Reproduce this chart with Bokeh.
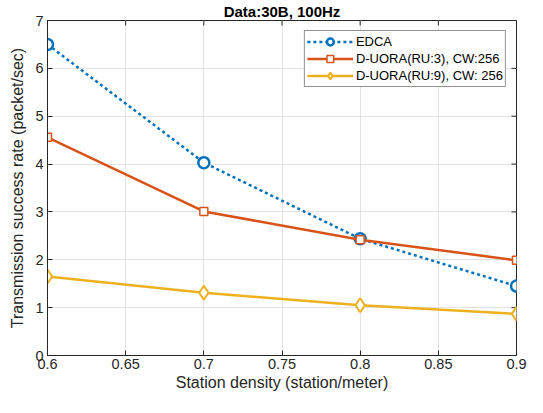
from bokeh.plotting import figure
from bokeh.models import Legend, LegendItem, Range1d, FixedTicker, Title
from bokeh.embed import file_html
from bokeh.resources import INLINE

density = [0.6, 0.7, 0.8, 0.9]
edca = [6.50, 4.03, 2.44, 1.45]
ru3 = [4.56, 3.01, 2.42, 1.99]
ru9 = [1.65, 1.31, 1.05, 0.87]
x_ticks = [0.6, 0.65, 0.7, 0.75, 0.8, 0.85, 0.9]
y_ticks = [0, 1, 2, 3, 4, 5, 6, 7]
names = ["EDCA", "D-UORA(RU:3), CW:256", "D-UORA(RU:9), CW: 256"]

FONT = "Liberation Sans"
AX = "#262626"
X0, X1, Y0, Y1 = 0.6, 0.9, 0, 7
FW, FH = 469, 335

p = figure(frame_width=FW, frame_height=FH, output_backend="svg", toolbar_location=None,
           x_range=Range1d(X0, X1), y_range=Range1d(Y0, Y1),
           min_border_left=47, min_border_right=11, min_border_top=20, min_border_bottom=42)
p.title = Title(text="Data:30B, 100Hz", align="center", text_font=FONT,
                text_font_size="15px", text_font_style="bold", text_color="#000000",
                standoff=1, offset=0)
p.outline_line_color = AX
p.outline_line_width = 1

for ax in (p.xaxis[0], p.yaxis[0]):
    ax.major_tick_in = 5
    ax.major_tick_out = 0
    ax.minor_tick_in = 0
    ax.minor_tick_out = 0
    ax.axis_line_color = AX
    ax.major_tick_line_color = AX
    ax.major_label_text_font = FONT
    ax.major_label_text_font_size = "14.5px"
    ax.major_label_text_color = AX
    ax.axis_label_text_font = FONT
    ax.axis_label_text_font_size = "16px"
    ax.axis_label_text_font_style = "normal"
    ax.axis_label_text_color = AX

p.xaxis.ticker = FixedTicker(ticks=x_ticks)
p.yaxis.ticker = FixedTicker(ticks=y_ticks)
p.xaxis.axis_label = "Station density (station/meter)"
p.yaxis.axis_label = "Transmission success rate (packet/sec)"
p.xaxis.major_label_standoff = 3
p.yaxis.major_label_standoff = 4
p.xaxis.axis_label_standoff = 2
p.yaxis.axis_label_standoff = 6

p.xgrid.ticker = FixedTicker(ticks=x_ticks)
p.ygrid.ticker = FixedTicker(ticks=y_ticks)
p.grid.grid_line_color = "#e3e3e3"
p.grid.grid_line_width = 1

# inward ticks on the top and right edges of the box
tx = 5 * (X1 - X0) / FW
ty = 5 * (Y1 - Y0) / FH
p.segment(x0=x_ticks, y0=[Y1] * len(x_ticks), x1=x_ticks, y1=[Y1 - ty] * len(x_ticks),
          line_color=AX, line_width=1)
p.segment(x0=[X1] * len(y_ticks), y0=y_ticks, x1=[X1 - tx] * len(y_ticks), y1=y_ticks,
          line_color=AX, line_width=1)

c1, c2, c3 = "#0072BD", "#D95319", "#EDB120"

l1 = p.line(density, edca, line_color=c1, line_width=2.5, line_dash="3 3")
m1 = p.scatter(density, edca, marker="circle", size=11, line_color=c1, line_width=2.5,
               fill_color="white")
l2 = p.line(density, ru3, line_color=c2, line_width=2.5)
m2 = p.scatter(density, ru3, marker="square", size=8, line_color=c2, line_width=1.5,
               fill_color="white")
l3 = p.line(density, ru9, line_color=c3, line_width=2.5)
m3 = p.scatter(density, ru9, marker="diamond", size=14, line_color=c3, line_width=2,
               fill_color="white")

legend = Legend(items=[LegendItem(label=names[0], renderers=[l1, m1]),
                       LegendItem(label=names[1], renderers=[l2, m2]),
                       LegendItem(label=names[2], renderers=[l3, m3])],
                location="top_right", label_text_font=FONT, label_text_font_size="13px",
                label_text_color="#000000", glyph_width=46, glyph_height=17,
                label_standoff=3, spacing=0, padding=2, margin=10,
                border_line_color=AX, border_line_width=1, background_fill_alpha=1,
                label_height=17)
p.add_layout(legend, "center")

open("out.html", "w").write(file_html(p, INLINE))
